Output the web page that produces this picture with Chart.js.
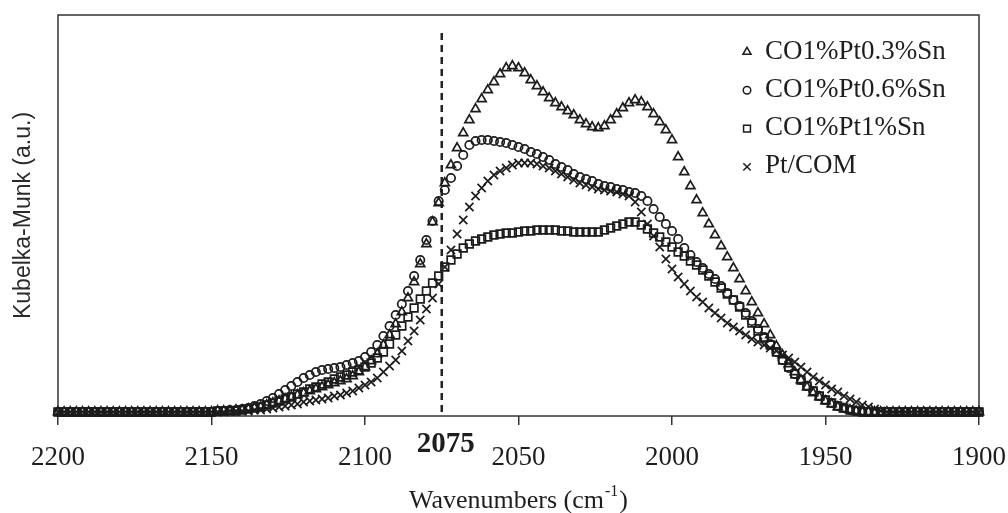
<!DOCTYPE html>
<html>
<head>
<meta charset="utf-8">
<title>Kubelka-Munk spectra</title>
<script src="https://cdn.jsdelivr.net/npm/chart.js@4.4.1/dist/chart.umd.min.js"></script>
<style>
	html, body { margin: 0; padding: 0; background: #ffffff; }
	#ir_chart { display: block; }
</style>
</head>
<body>
<canvas id="ir_chart" width="1008" height="513"></canvas>
<script>
// wavenumbers (cm-1), one row = 20 cm-1
const wavenumbers = [
	2200, 2198, 2196, 2194, 2192, 2190, 2188, 2186, 2184, 2182,
	2180, 2178, 2176, 2174, 2172, 2170, 2168, 2166, 2164, 2162,
	2160, 2158, 2156, 2154, 2152, 2150, 2148, 2146, 2144, 2142,
	2140, 2138, 2136, 2134, 2132, 2130, 2128, 2126, 2124, 2122,
	2120, 2118, 2116, 2114, 2112, 2110, 2108, 2106, 2104, 2102,
	2100, 2098, 2096, 2094, 2092, 2090, 2088, 2086, 2084, 2082,
	2080, 2078, 2076, 2074, 2072, 2070, 2068, 2066, 2064, 2062,
	2060, 2058, 2056, 2054, 2052, 2050, 2048, 2046, 2044, 2042,
	2040, 2038, 2036, 2034, 2032, 2030, 2028, 2026, 2024, 2022,
	2020, 2018, 2016, 2014, 2012, 2010, 2008, 2006, 2004, 2002,
	2000, 1998, 1996, 1994, 1992, 1990, 1988, 1986, 1984, 1982,
	1980, 1978, 1976, 1974, 1972, 1970, 1968, 1966, 1964, 1962,
	1960, 1958, 1956, 1954, 1952, 1950, 1948, 1946, 1944, 1942,
	1940, 1938, 1936, 1934, 1932, 1930, 1928, 1926, 1924, 1922,
	1920, 1918, 1916, 1914, 1912, 1910, 1908, 1906, 1904, 1902,
	1900
];

// CO1%Pt0.3%Sn
const km_pt03sn = [
	0, 0, 0, 0, 0, 0, 0, 0, 0, 0,
	0, 0, 0, 0, 0, 0, 0, 0, 0, 0,
	0, 0, 0, 0, 0, 0, 1, 1, 1, 2,
	2, 3, 4, 5, 7, 9, 11, 13, 15, 17,
	19, 21, 23, 25, 27, 29, 31, 33, 36, 40,
	45, 51, 58, 67, 77, 88, 100, 114, 130, 148,
	168, 190, 209, 229, 247, 264, 279, 292, 303, 313,
	322, 330, 338, 344, 346, 344, 339, 332, 326, 320,
	314, 309, 305, 301, 297, 292, 288, 285, 284, 286,
	292, 298, 304, 309, 312, 310, 305, 298, 290, 282,
	272, 255, 240, 226, 212, 199, 188, 177, 166, 155,
	144, 133, 121, 110, 99, 88, 77, 66, 57, 48,
	40, 32, 25, 19, 15, 11, 8, 5, 3, 2,
	1, 0, 0, 0, 0, 0, 0, 0, 0, 0,
	0, 0, 0, 0, 0, 0, 0, 0, 0, 0,
	0
];

// CO1%Pt0.6%Sn
const km_pt06sn = [
	0, 0, 0, 0, 0, 0, 0, 0, 0, 0,
	0, 0, 0, 0, 0, 0, 0, 0, 0, 0,
	0, 0, 0, 0, 0, 0, 1, 1, 2, 2,
	3, 4, 6, 8, 11, 14, 18, 22, 26, 30,
	34, 37, 40, 42, 43, 44, 45, 47, 49, 51,
	55, 60, 67, 76, 86, 97, 108, 121, 136, 152,
	172, 191, 211, 222, 234, 246, 257, 267, 271, 272,
	272, 271, 270, 269, 267, 265, 263, 260, 258, 255,
	252, 248, 245, 242, 238, 235, 233, 231, 228, 226,
	225, 223, 222, 220, 219, 216, 211, 203, 195, 188,
	181, 173, 164, 157, 150, 144, 138, 133, 126, 119,
	112, 106, 99, 91, 83, 75, 68, 60, 52, 44,
	38, 32, 26, 21, 16, 12, 9, 6, 4, 2,
	1, 0, 0, 0, 0, 0, 0, 0, 0, 0,
	0, 0, 0, 0, 0, 0, 0, 0, 0, 0,
	0
];

// CO1%Pt1%Sn
const km_pt1sn = [
	0, 0, 0, 0, 0, 0, 0, 0, 0, 0,
	0, 0, 0, 0, 0, 0, 0, 0, 0, 0,
	0, 0, 0, 0, 0, 0, 1, 1, 1, 1,
	2, 3, 4, 5, 7, 9, 11, 13, 15, 18,
	20, 23, 25, 28, 30, 33, 35, 37, 40, 42,
	45, 49, 54, 60, 68, 77, 86, 95, 104, 113,
	121, 129, 136, 145, 152, 158, 164, 168, 171, 173,
	175, 177, 178, 179, 179, 180, 181, 181, 182, 182,
	182, 182, 181, 181, 180, 180, 180, 180, 180, 182,
	184, 186, 188, 190, 190, 187, 183, 179, 175, 170,
	165, 160, 156, 151, 147, 142, 136, 130, 124, 118,
	112, 105, 97, 89, 81, 74, 67, 60, 52, 45,
	38, 32, 26, 21, 16, 12, 9, 6, 4, 2,
	1, 0, 0, 0, 0, 0, 0, 0, 0, 0,
	0, 0, 0, 0, 0, 0, 0, 0, 0, 0,
	0
];

// Pt/COM
const km_ptcom = [
	0, 0, 0, 0, 0, 0, 0, 0, 0, 0,
	0, 0, 0, 0, 0, 0, 0, 0, 0, 0,
	0, 0, 0, 0, 0, 0, 0, 0, 1, 1,
	1, 1, 2, 2, 3, 4, 5, 6, 7, 8,
	10, 11, 12, 13, 14, 16, 17, 19, 21, 24,
	27, 30, 34, 40, 46, 52, 61, 71, 81, 92,
	103, 114, 128, 145, 162, 178, 192, 205, 216, 224,
	231, 237, 241, 244, 247, 249, 249, 249, 248, 246,
	244, 241, 238, 235, 232, 229, 227, 225, 223, 222,
	221, 220, 218, 216, 210, 200, 188, 176, 165, 153,
	143, 135, 128, 121, 115, 110, 104, 99, 94, 89,
	85, 81, 77, 73, 70, 67, 64, 61, 57, 54,
	50, 45, 40, 35, 31, 27, 23, 20, 16, 13,
	10, 7, 5, 3, 1, 0, 0, 0, 0, 0,
	0, 0, 0, 0, 0, 0, 0, 0, 0, 0,
	0
];

const series_labels = ['CO1%Pt0.3%Sn', 'CO1%Pt0.6%Sn', 'CO1%Pt1%Sn', 'Pt/COM'];
const x_ticks = [2200, 2150, 2100, 2050, 2000, 1950, 1900];
const marker_line = 2075;
const marker_line_top = 384;

const INK = '#1c1c1c';
const SERIF = '"Liberation Serif", "Times New Roman", serif';
const SANS = '"Liberation Sans", Arial, sans-serif';


function toPoints(values){
	/*
	Pairs each value with its wavenumber.
	:param: values.
	:return: list of {x, y}.
	*/
	return values.map((v, i) => ({x: wavenumbers[i], y: v}));
}


function markerSet(label, values, style, radius){
	return {
		label: label,
		data: toPoints(values),
		showLine: false,
		pointStyle: style,
		pointRadius: radius,
		pointHoverRadius: radius,
		pointBorderWidth: 1.7,
		pointBorderColor: INK,
		pointBackgroundColor: 'rgba(0,0,0,0)',
		borderColor: INK,
		backgroundColor: 'rgba(0,0,0,0)',
		clip: false
	};
}


const frame_plugin = {
	id: 'frame',
	beforeDatasetsDraw(chart){
		const a = chart.chartArea;
		const ctx = chart.ctx;
		ctx.save();
		ctx.strokeStyle = '#333';
		ctx.lineWidth = 1.5;
		ctx.strokeRect(a.left, a.top, a.right - a.left, a.bottom - a.top);
		ctx.restore();
	}
};


const text_plugin = {
	id: 'texts',
	afterDraw(chart){
		const ctx = chart.ctx;
		const a = chart.chartArea;
		const xs = chart.scales.x;
		ctx.save();
		ctx.fillStyle = '#1e1e1e';

		// bold label under the dashed line
		ctx.font = 'bold 29px ' + SERIF;
		ctx.textAlign = 'center';
		ctx.textBaseline = 'alphabetic';
		ctx.fillText(String(marker_line), xs.getPixelForValue(marker_line) + 4, 452);

		// x title with superscript
		const main = 'Wavenumbers (cm';
		const sup = '-1';
		ctx.font = '26px ' + SERIF;
		const w_main = ctx.measureText(main).width;
		const w_close = ctx.measureText(')').width;
		ctx.font = '16px ' + SERIF;
		const w_sup = ctx.measureText(sup).width;
		let x0 = (a.left + a.right) / 2 - (w_main + w_sup + w_close + 2) / 2;
		ctx.textAlign = 'left';
		ctx.font = '26px ' + SERIF;
		ctx.fillText(main, x0, 508);
		ctx.font = '16px ' + SERIF;
		ctx.fillText(sup, x0 + w_main + 1, 496);
		ctx.font = '26px ' + SERIF;
		ctx.fillText(')', x0 + w_main + w_sup + 2, 508);

		// y title
		ctx.font = '23px ' + SANS;
		ctx.fillStyle = '#2a2a2a';
		ctx.translate(24, (a.top + a.bottom) / 2);
		ctx.rotate(-Math.PI / 2);
		ctx.textAlign = 'center';
		ctx.textBaseline = 'middle';
		ctx.fillText('Kubelka-Munk (a.u.)', 0, 0);
		ctx.restore();
	}
};


const legend_plugin = {
	id: 'insideLegend',
	afterDraw(chart){
		const ctx = chart.ctx;
		const a = chart.chartArea;
		const sym_x = a.right - 232;
		const text_x = a.right - 214;
		ctx.save();
		ctx.font = '27px ' + SERIF;
		ctx.textAlign = 'left';
		ctx.textBaseline = 'alphabetic';
		for (let i = 0; i < series_labels.length; i++) {
			const ds = chart.data.datasets[i];
			const base = a.top + 43.5 + i * 38.3;
			ctx.strokeStyle = INK;
			ctx.fillStyle = 'rgba(0,0,0,0)';
			ctx.lineWidth = 1.5;
			Chart.helpers.drawPoint(ctx, {
				pointStyle: ds.pointStyle,
				radius: ds.pointRadius * 0.9,
				borderWidth: 1.5,
				rotation: 0
			}, sym_x, base - 6.5);
			ctx.fillStyle = '#1e1e1e';
			ctx.fillText(series_labels[i], text_x, base);
		}
		ctx.restore();
	}
};


function createSpectraChart(){
	/*
	Creates the DRIFT spectra chart.
	:return: None.
	*/
	const ctx = document.getElementById('ir_chart').getContext('2d');
	const spectra_chart = new Chart(ctx, {
		type: 'scatter',
		data: {
			datasets: [
				markerSet(series_labels[0], km_pt03sn, 'triangle', 5.2),
				markerSet(series_labels[1], km_pt06sn, 'circle', 4.2),
				markerSet(series_labels[2], km_pt1sn, 'rect', 5.4),
				markerSet(series_labels[3], km_ptcom, 'crossRot', 5.8),
				{
					label: 'marker',
					data: [{x: marker_line, y: 0}, {x: marker_line, y: marker_line_top}],
					showLine: true,
					pointRadius: 0,
					borderColor: '#222',
					borderWidth: 2.5,
					borderDash: [7, 5],
					clip: false
				}
			]
		},
		options: {
			responsive: false,
			animation: false,
			devicePixelRatio: 1,
			layout: {
				padding: {top: 15, right: 29, left: 0, bottom: 0}
			},
			scales: {
				x: {
					type: 'linear',
					reverse: true,
					min: 1900,
					max: 2200,
					afterFit: function(scale){
						scale.height = 97;
						scale.paddingLeft = 0;
						scale.paddingRight = 0;
					},
					afterBuildTicks: function(scale){
						scale.ticks = x_ticks.map(v => ({value: v}));
					},
					border: {display: false},
					grid: {
						display: true,
						drawOnChartArea: false,
						drawTicks: true,
						tickLength: 9,
						color: '#333',
						lineWidth: 1.5
					},
					ticks: {
						autoSkip: false,
						maxRotation: 0,
						padding: 17,
						color: '#1e1e1e',
						font: {family: SERIF, size: 27},
						callback: function(value){ return String(value); }
					}
				},
				y: {
					min: -4,
					max: 397,
					afterFit: function(scale){ scale.width = 58; },
					border: {display: false},
					grid: {display: false},
					ticks: {display: false}
				}
			},
			plugins: {
				legend: {display: false},
				tooltip: {enabled: false}
			}
		},
		plugins: [frame_plugin, text_plugin, legend_plugin]
	});
}

createSpectraChart();
</script>
</body>
</html>
